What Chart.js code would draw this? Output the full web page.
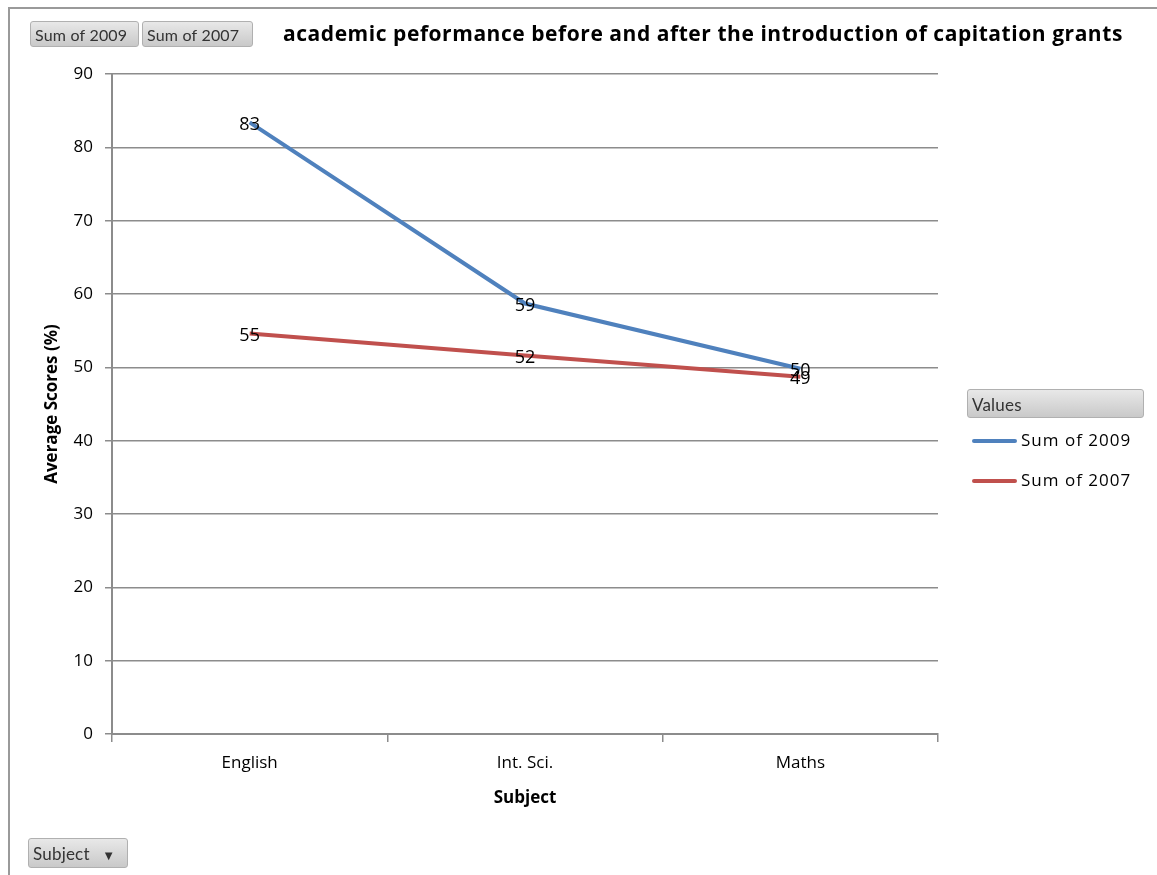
<!DOCTYPE html>
<html>
<head>
<meta charset="utf-8">
<script src="https://cdn.jsdelivr.net/npm/chart.js@4.4.1/dist/chart.umd.min.js"></script>
<style>
  html, body { margin: 0; padding: 0; background: #fff; }
  #wrap { position: relative; width: 1157px; height: 875px; font-family: "Open Sans", sans-serif; }
  #frame { position: absolute; left: 8px; top: 7px; right: 0; bottom: 0; border-left: 2px solid #9a9a9a; border-top: 2px solid #9a9a9a; }
  .btn { position: absolute; height: 26px; line-height: 26px; font-size: 16px; color: #333; padding: 0 4px; font-family: Lato, sans-serif; letter-spacing: 0.2px;
         background: linear-gradient(#e8e8e8, #c9c9c9); border: 1px solid #b0b0b0; border-radius: 3px; box-sizing: border-box; white-space: nowrap; }
  #title { position: absolute; left: 283px; top: 19px; font-size: 21px; font-weight: bold; color: #000; white-space: nowrap; letter-spacing: 0.55px; }
  .leg { position: absolute; left: 972px; font-size: 17px; color: #000; height: 20px; line-height: 20px; white-space: nowrap; letter-spacing: 1px; }
  .leg span { display: inline-block; width: 45px; height: 4px; border-radius: 2px; vertical-align: middle; margin-right: 4px; }
  canvas { position: absolute; left: 0; top: 0; }
</style>
</head>
<body>
<div id="wrap">
  <div id="frame"></div>
  <canvas id="grafico"></canvas>
  <div class="btn" style="left:30px;top:21px;width:109px;">Sum of 2009</div>
  <div class="btn" style="left:142px;top:21px;width:111px;">Sum of 2007</div>
  <div id="title">academic peformance before and after the introduction of capitation grants</div>
  <div class="btn" style="left:967px;top:389px;width:177px;height:29px;line-height:29px;font-size:17px;">Values</div>
  <div class="leg" style="top:430px;"><span style="background:#4F81BD"></span>Sum of 2009</div>
  <div class="leg" style="top:470px;"><span style="background:#C0504D"></span>Sum of 2007</div>
  <div class="btn" style="left:28px;top:838px;width:100px;height:30px;line-height:30px;font-size:17px;">Subject <span style="font-size:13px;margin-left:8px;">&#9660;</span></div>
</div>
<script>
var subjects = ['English', 'Int. Sci.', 'Maths'];
var sum2009 = [83.4, 58.7, 49.8];
var sum2007 = [54.6, 51.6, 48.7];
var yTicks = [0, 10, 20, 30, 40, 50, 60, 70, 80, 90];

var etiquetas = {
    id: 'etiquetas',
    afterDatasetsDraw: function(chart) {
        var ctx = chart.ctx;
        ctx.save();
        ctx.font = '18px "Open Sans", sans-serif';
        ctx.fillStyle = '#000';
        ctx.textAlign = 'center';
        ctx.textBaseline = 'middle';
        chart.data.datasets.forEach(function(ds, i) {
            chart.getDatasetMeta(i).data.forEach(function(pt, j) {
                ctx.fillText(Math.round(ds.data[j]), pt.x, pt.y + 2);
            });
        });
        ctx.restore();
    }
};

function loadChart() {
    var el = document.getElementById('grafico');
    el.width = 1157; el.height = 875;
    new Chart(el.getContext('2d'), {
        type: 'line',
        data: {
            labels: subjects,
            datasets: [{
                label: 'Sum of 2009',
                data: sum2009,
                borderColor: '#4F81BD',
                borderWidth: 4,
                pointRadius: 0,
                tension: 0
            }, {
                label: 'Sum of 2007',
                data: sum2007,
                borderColor: '#C0504D',
                borderWidth: 4,
                pointRadius: 0,
                tension: 0
            }]
        },
        options: {
            responsive: false,
            animation: false,
            layout: { padding: { left: 38, top: 74, right: 219, bottom: 63 } },
            plugins: { legend: { display: false }, tooltip: { enabled: false } },
            scales: {
                x: {
                    offset: true,
                    afterFit: function(s) { s.height = 78; },
                    grid: { offset: true, drawOnChartArea: false, drawTicks: true, tickLength: 8, color: '#8c8c8c', lineWidth: 1.5 },
                    border: { color: '#8c8c8c', width: 2 },
                    ticks: { color: '#000', padding: 11, font: { family: 'Open Sans', size: 17 } },
                    title: { display: true, text: 'Subject', color: '#000', font: { family: 'Open Sans', size: 17, weight: 'bold' } }
                },
                y: {
                    min: 0,
                    max: 90,
                    afterFit: function(s) { s.width = 74; },
                    afterBuildTicks: function(s) { s.ticks = yTicks.map(function(v) { return { value: v }; }); },
                    grid: { color: '#8c8c8c', lineWidth: 1.5, tickLength: 7 },
                    border: { color: '#8c8c8c', width: 2 },
                    ticks: { color: '#000', padding: 12, font: { family: 'Open Sans', size: 17 } },
                    title: { display: true, text: 'Average Scores (%)', color: '#000', font: { family: 'Open Sans', size: 17, weight: 'bold' } }
                }
            }
        },
        plugins: [etiquetas]
    });
}

loadChart();
</script>
</body>
</html>
